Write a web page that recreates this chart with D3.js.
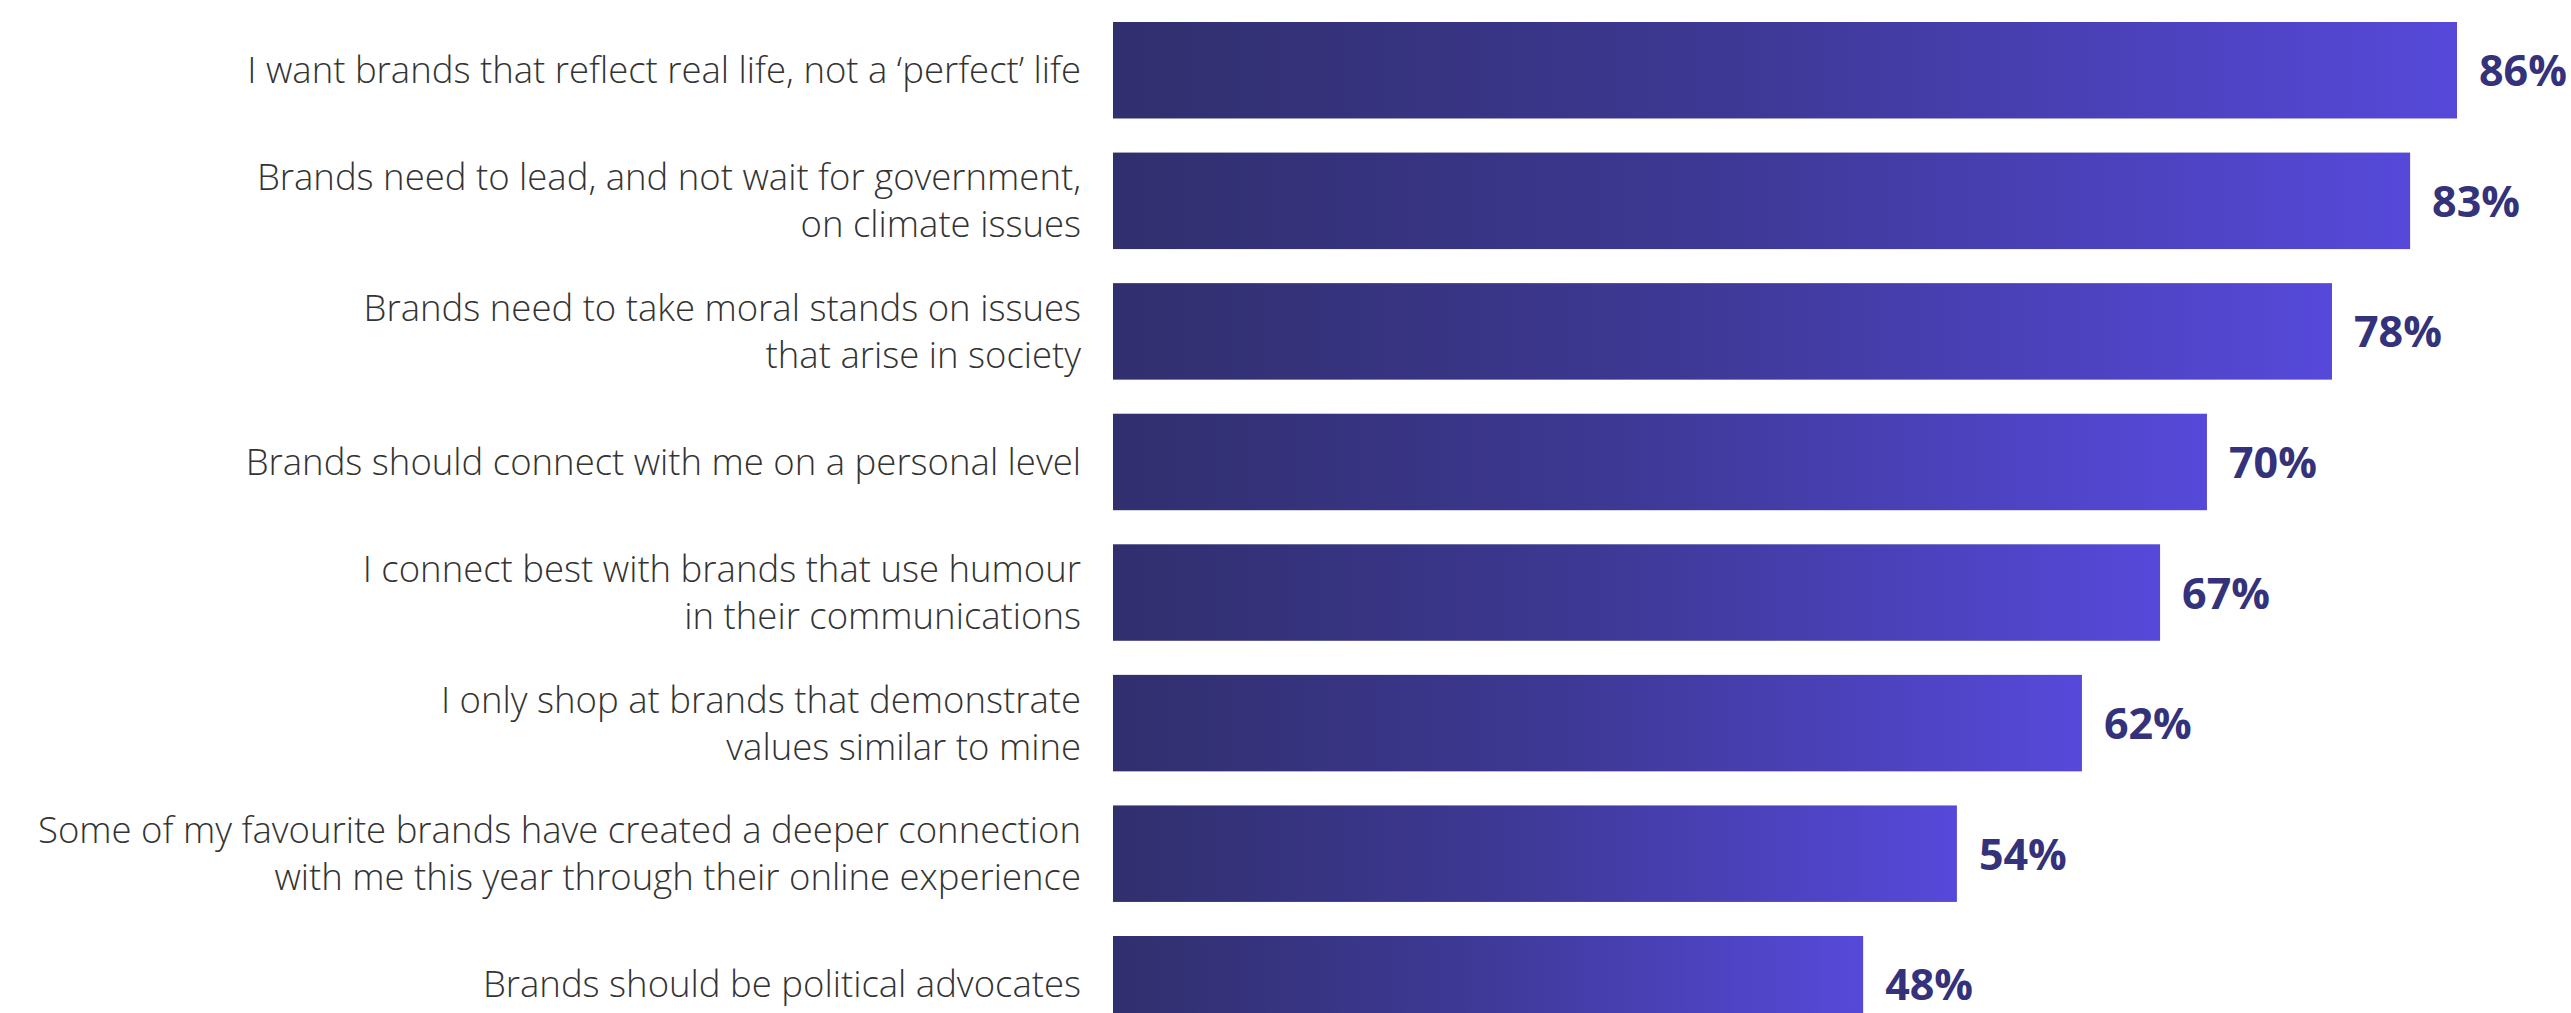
<!DOCTYPE html>
<html>
<head>
<meta charset="utf-8">
<script src="https://cdn.jsdelivr.net/npm/d3@7"></script>
<style>
  html, body { margin: 0; padding: 0; background: #ffffff; }
  svg { display: block; }
</style>
</head>
<body>
<script>
// Survey statements (each entry is a list of label lines) and agreement shares (%)
const statements = [
  ["I want brands that reflect real life, not a \u2018perfect\u2019 life"],
  ["Brands need to lead, and not wait for government,", "on climate issues"],
  ["Brands need to take moral stands on issues", "that arise in society"],
  ["Brands should connect with me on a personal level"],
  ["I connect best with brands that use humour", "in their communications"],
  ["I only shop at brands that demonstrate", "values similar to mine"],
  ["Some of my favourite brands have created a deeper connection", "with me this year through their online experience"],
  ["Brands should be political advocates"]
];
const shares = [86, 83, 78, 70, 67, 62, 54, 48];

const width = 2571, height = 1013;

const svg = d3.select("body").append("svg")
  .attr("width", width)
  .attr("height", height);

// Horizontal gradient applied to each bar over its own length
const defs = svg.append("defs");
const grad = defs.append("linearGradient")
  .attr("id", "barFill")
  .attr("x1", "0%").attr("x2", "100%")
  .attr("y1", "0%").attr("y2", "0%");
grad.append("stop").attr("offset", "0%").attr("stop-color", "#312f6e");
grad.append("stop").attr("offset", "45%").attr("stop-color", "#3d3893");
grad.append("stop").attr("offset", "100%").attr("stop-color", "#5649da");

const keys = statements.map((d, i) => i);

const x = d3.scaleLinear()
  .domain([0, 100])
  .range([1113, 1113 + 1562.8]);

const y = d3.scaleBand()
  .domain(keys)
  .range([22, 1032.5])
  .paddingInner(0.261)
  .paddingOuter(0);

const rows = svg.append("g")
  .selectAll("g")
  .data(keys)
  .join("g");

rows.append("rect")
  .attr("x", x(0))
  .attr("y", i => y(i))
  .attr("width", i => x(shares[i]) - x(0))
  .attr("height", y.bandwidth())
  .attr("fill", "url(#barFill)");

// Category labels, right-aligned against the bars
const labels = rows.append("text")
  .attr("text-anchor", "end")
  .attr("font-family", "'Open Sans', sans-serif")
  .attr("font-weight", 300)
  .attr("font-size", 36.5)
  .attr("fill", "#333333");

const lineGap = 47;
labels.each(function (i) {
  const lines = statements[i];
  const cy = y(i) + y.bandwidth() / 2;
  const first = cy - (lines.length - 1) * lineGap / 2 + 13;
  d3.select(this).selectAll("tspan")
    .data(lines)
    .join("tspan")
    .attr("x", 1081)
    .attr("y", (d, k) => first + k * lineGap)
    .text(d => d);
});

// Value labels at the end of each bar
rows.append("text")
  .attr("x", i => x(shares[i]) + 22)
  .attr("y", i => y(i) + y.bandwidth() / 2 + 16)
  .attr("font-family", "'Open Sans', sans-serif")
  .attr("font-weight", 700)
  .attr("font-size", 43)
  .attr("fill", "#33327a")
  .text(i => shares[i] + "%");
</script>
</body>
</html>
